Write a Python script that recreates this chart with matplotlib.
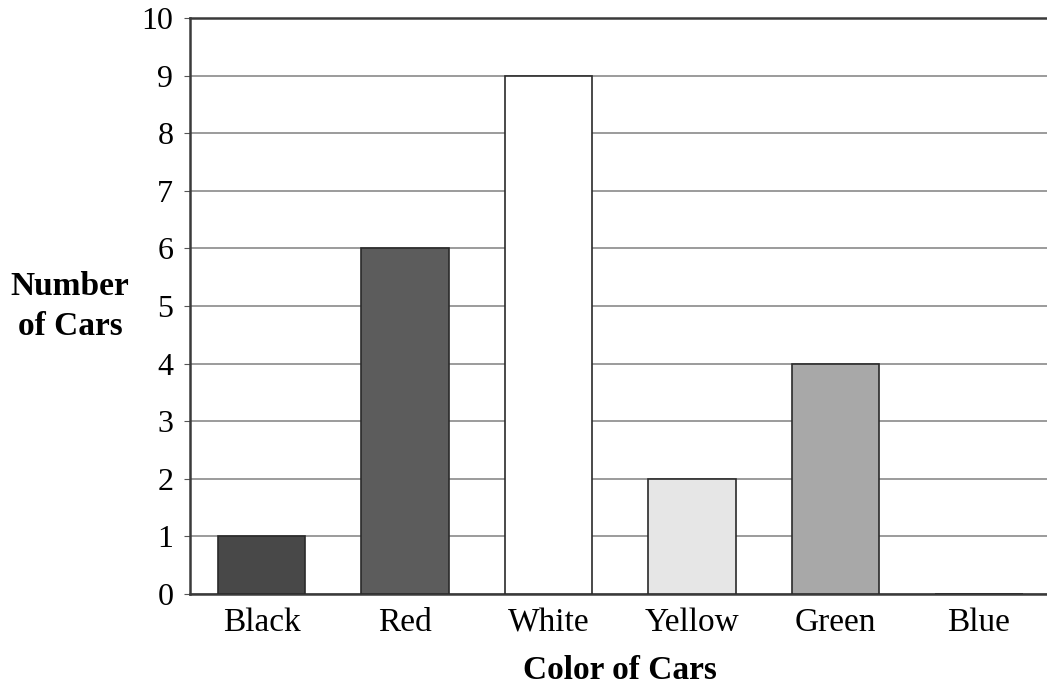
import matplotlib
matplotlib.use("Agg")
import matplotlib.pyplot as plt

categories = ["Black", "Red", "White", "Yellow", "Green", "Blue"]
counts = [1, 6, 9, 2, 4, 0]
bar_colors = ["#484848", "#5c5c5c", "#ffffff", "#e6e6e6", "#a8a8a8", "#ffffff"]
y_ticks = list(range(0, 11))

plt.rcParams["font.family"] = ["Liberation Serif", "DejaVu Serif"]

fig = plt.figure(figsize=(10.47, 6.86), dpi=100)
ax = fig.add_axes([0.1815, 0.134, 0.822, 0.8398])

x = list(range(len(categories)))
ax.bar(x, counts, width=0.61, color=bar_colors, edgecolor="#2a2a2a", linewidth=1.2, zorder=3)

ax.set_xlim(-0.5, len(categories) - 0.5)
ax.set_ylim(0, 10)
ax.set_yticks(y_ticks)
ax.set_yticklabels([str(v) for v in y_ticks], fontsize=23)
ax.set_xticks(x)
ax.set_xticklabels(categories, fontsize=24)
ax.tick_params(axis="x", length=0, pad=10)
ax.tick_params(axis="y", length=4, pad=8, color="#555555")

ax.yaxis.grid(True, color="#8a8a8a", linewidth=1.2, zorder=0)
ax.set_axisbelow(True)

for side in ["left", "top", "bottom"]:
    ax.spines[side].set_color("#3a3a3a")
    ax.spines[side].set_linewidth(1.8)
ax.spines["right"].set_visible(False)

ax.set_xlabel("Color of Cars", fontsize=24, fontweight="bold", labelpad=12)
fig.text(0.067, 0.553, "Number\nof Cars", fontsize=24, fontweight="bold",
         ha="center", va="center", linespacing=1.35)

fig.savefig("out.png", dpi=100)
